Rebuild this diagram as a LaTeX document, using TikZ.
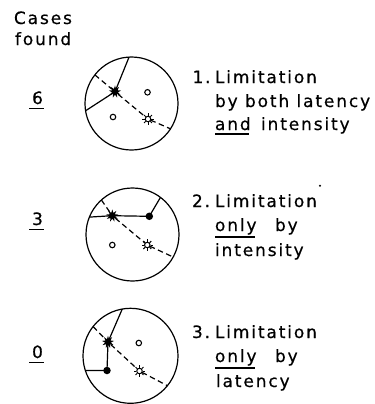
\documentclass[tikz,border=0pt]{standalone}
\usepackage{fontspec}
\setmainfont{DejaVu Sans}[LetterSpace=11, FakeBold=0.5]
\usetikzlibrary{shapes.geometric}
\tikzset{
  ring/.style={draw, circle, inner sep=0pt, outer sep=0pt, minimum size=93bp, line width=1.2bp},
  blackstar/.style={star, star points=9, star point ratio=2.1, fill=black, inner sep=0pt, outer sep=0pt, minimum size=12.5bp},
  sun/.style={draw, circle, inner sep=0pt, outer sep=0pt, minimum size=5.5bp, line width=1bp},
  hollow/.style={draw, circle, inner sep=0pt, outer sep=0pt, minimum size=5.5bp, line width=1.1bp},
  blackdot/.style={fill, circle, inner sep=0pt, outer sep=0pt, minimum size=7.5bp},
  solidline/.style={line width=1.2bp},
  dashline/.style={line width=1.2bp, dash pattern=on 5.5bp off 3.5bp},
  ray/.style={line width=1bp},
  ulline/.style={line width=1.2bp},
  lbl/.style={inner sep=0pt, outer sep=0pt, anchor=base west, font=\fontsize{17bp}{20bp}\selectfont},
  numlbl/.style={lbl, anchor=base}
}
\begin{document}
\begin{tikzpicture}[x=1bp, y=-1bp]
\useasboundingbox (0,0) rectangle (375,404);

% ---- header
\node[lbl] (cases) at (14,24) {Cases};
\node[lbl] (found) at (15,45) {found};

% ---- counts
\node[numlbl] (n6) at (37.5,104) {6};
\node[numlbl] (n3) at (37.5,225) {3};
\node[numlbl] (n0) at (37.5,358) {0};
\draw[ulline] ([xshift=-8bp,yshift=-4.3bp]n6.base) -- ([xshift=6.5bp,yshift=-4.3bp]n6.base);
\draw[ulline] ([xshift=-8bp,yshift=-4.3bp]n3.base) -- ([xshift=6.5bp,yshift=-4.3bp]n3.base);
\draw[ulline] ([xshift=-8bp,yshift=-4.3bp]n0.base) -- ([xshift=6.5bp,yshift=-4.3bp]n0.base);

% ---- circle 1
\node[ring] (c1) at (131.5,103.5) {};
\node[blackstar] (b1) at (115,91.7) {};
\node[sun] (s1) at (148,119) {};
\node[hollow] (o1a) at (147.5,92.3) {};
\node[hollow] (o1b) at (113,117) {};
\draw[solidline] (c1.93) -- (b1.center);
\draw[solidline] (c1.189.5) -- (b1.center);
\draw[dashline] (c1.142) -- (b1);
\draw[dashline] (b1) -- (s1);
\draw[dashline] (s1) -- (c1.-33.4);

% ---- circle 2
\node[ring] (c2) at (132.5,234.5) {};
\node[blackstar] (b2) at (112.3,215.7) {};
\node[blackdot] (d2) at (149.3,216.3) {};
\node[sun] (s2) at (147.3,245) {};
\node[hollow] (o2) at (112.3,245) {};
\draw[solidline] (c2.158.5) -- (b2.center);
\draw[solidline] (b2.center) -- (d2.center);
\draw[solidline] (d2.center) -- (c2.53.5);
\draw[dashline] (c2.132) -- (b2);
\draw[dashline] (b2) -- (s2);
\draw[dashline] (s2) -- (c2.-29.7);

% ---- circle 3
\node[ring, minimum size=95bp] (c3) at (130.5,355.8) {};
\node[blackstar] (b3) at (108,342) {};
\node[blackdot] (d3) at (107,370.5) {};
\node[sun] (s3) at (139.5,371) {};
\node[hollow] (o3) at (138.8,343) {};
\draw[solidline] (c3.100.9) -- (b3.center);
\draw[solidline] (b3.center) -- (d3.center);
\draw[solidline] (c3.198) -- (d3.center);
\draw[dashline] (c3.142) -- (b3);
\draw[dashline] (b3) -- (s3);
\draw[dashline] (s3) -- (c3.-39);

% sun rays
\foreach \s in {s1,s2,s3}{
  \foreach \a in {0,45,...,315}{
    \draw[ray] (\s.center) ++(\a:3.2bp) -- ++(\a:2.4bp);
  }
}

% ---- descriptions
\node[lbl] (onenum) at (192.5,83) {1.};
\node[lbl] (onelineA) at (215,83) {Limitation};
\node[lbl] (onelineB) at (215,107) {by both latency};
\node[lbl] (oneand) at (215,130) {and};
\node[lbl] (oneint) at (261,130) {intensity};
\draw[ulline] ([yshift=-4bp]oneand.base west) -- ([xshift=-1.5bp,yshift=-4bp]oneand.base east);

\node[lbl] (twonum) at (192,207) {2.};
\node[lbl] (twolineA) at (215,207) {Limitation};
\node[lbl] (twoonly) at (215,231) {only};
\node[lbl] (twoby) at (275,231) {by};
\node[lbl] (twoint) at (215,256) {intensity};
\draw[ulline] ([yshift=-6bp]twoonly.base west) -- ([xshift=-1.5bp,yshift=-6bp]twoonly.base east);
\fill (320,185.7) circle (1.2bp);

\node[lbl] (threenum) at (192,338) {3.};
\node[lbl] (threelineA) at (215,338) {Limitation};
\node[lbl] (threeonly) at (215,362) {only};
\node[lbl] (threeby) at (275,362) {by};
\node[lbl] (threelat) at (216,387) {latency};
\draw[ulline] ([yshift=-6bp]threeonly.base west) -- ([xshift=-1.5bp,yshift=-6bp]threeonly.base east);
\end{tikzpicture}
\end{document}
